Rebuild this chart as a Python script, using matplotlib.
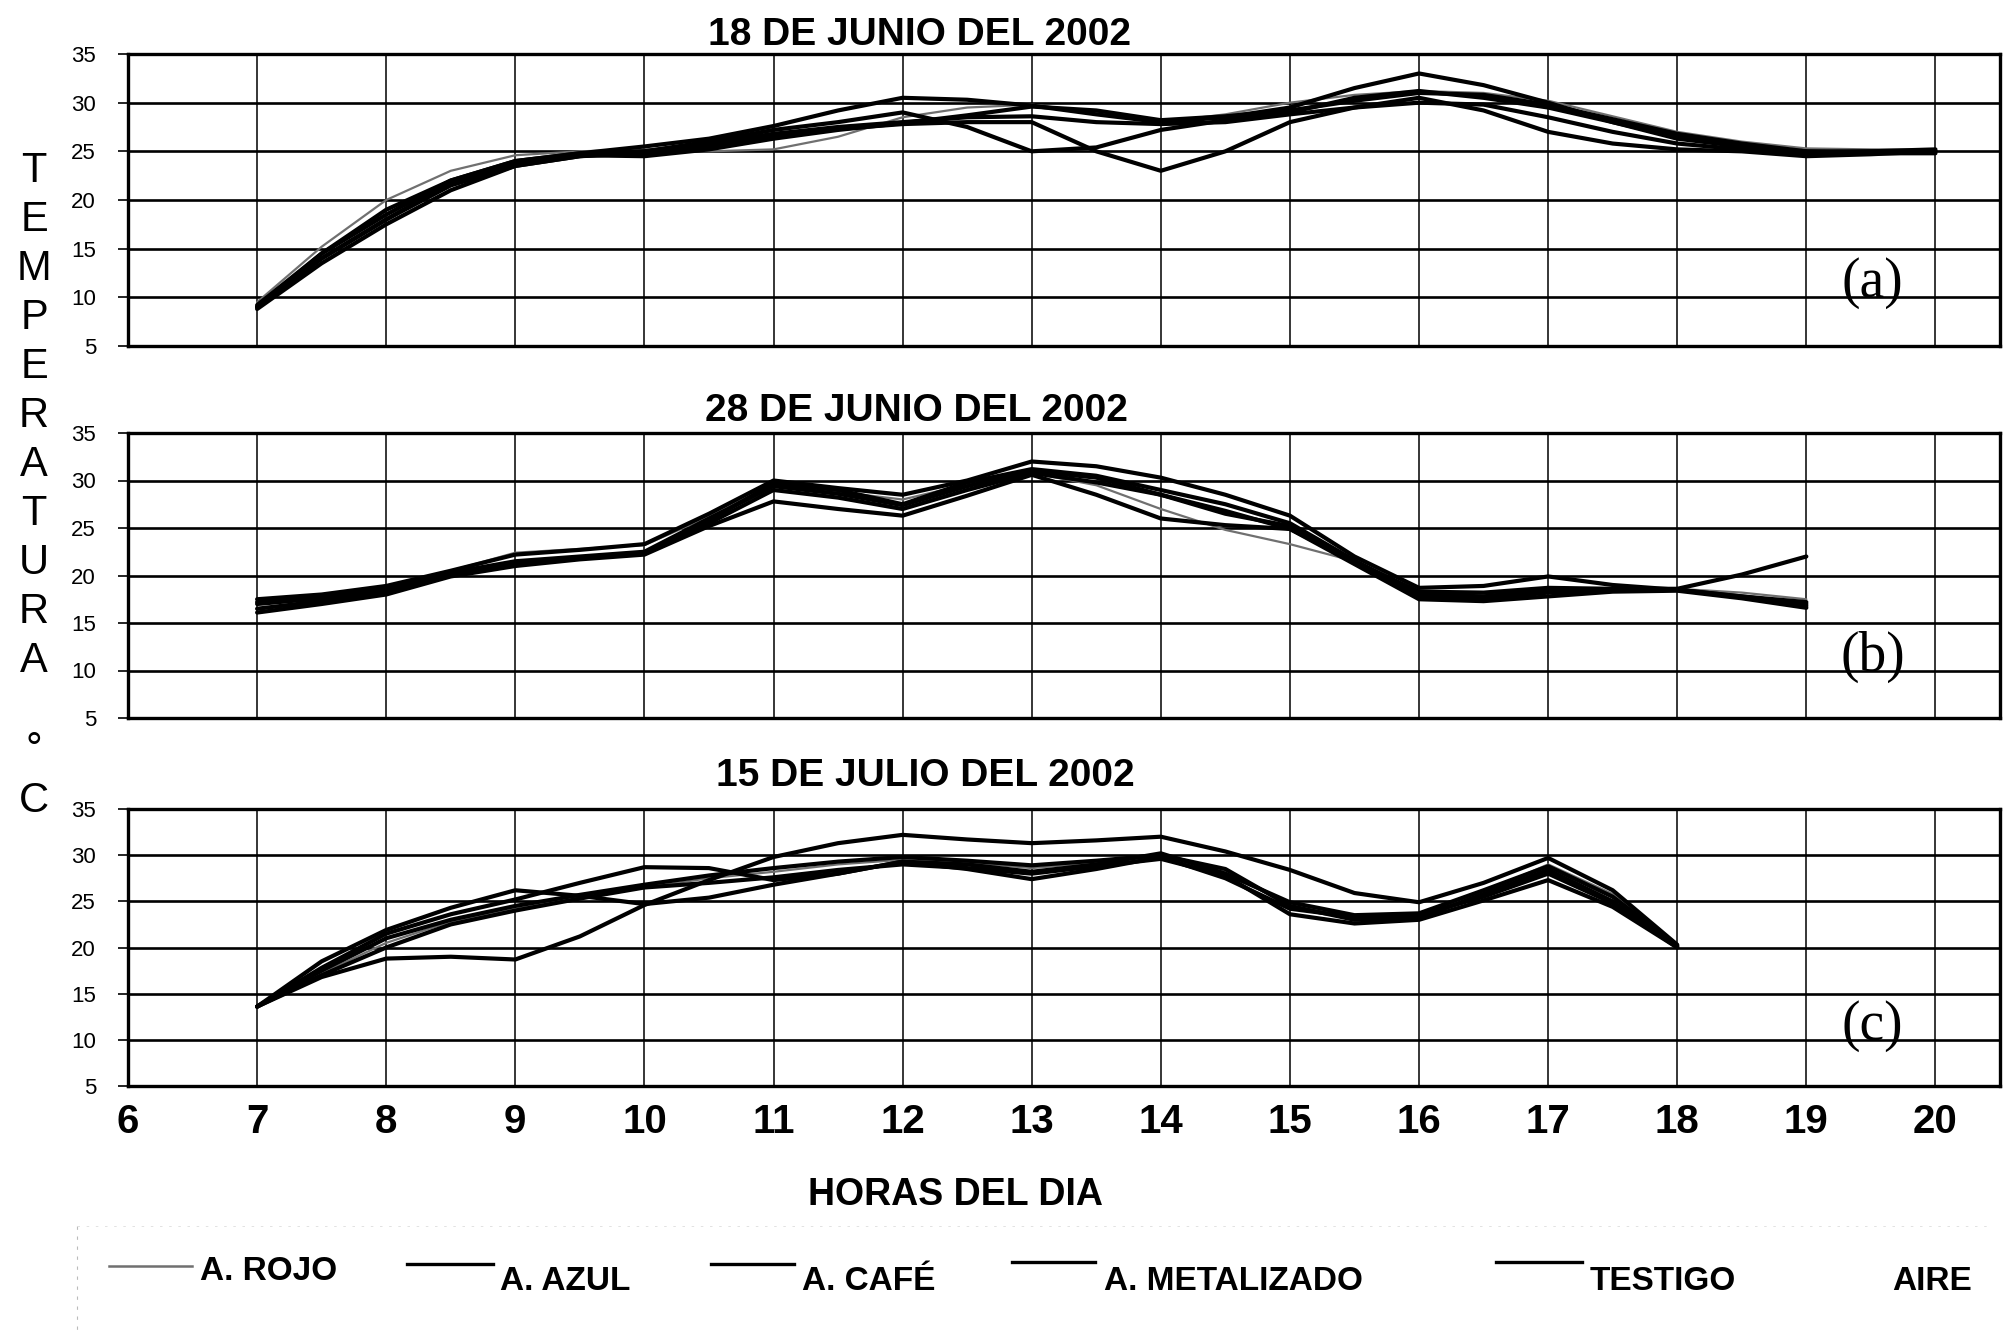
import matplotlib
matplotlib.use("Agg")
import matplotlib.pyplot as plt
from matplotlib.lines import Line2D
import numpy as np

plt.rcParams['font.family'] = ['Liberation Sans', 'DejaVu Sans']

# ---------------- DATA ----------------
series_names = ["A. ROJO", "A. AZUL", "A. CAFÉ", "A. METALIZADO", "TESTIGO", "AIRE"]

# Panel (a) 18 de junio 2002, hours 7..20 every 0.5 h
hours_a = [7, 7.5, 8, 8.5, 9, 9.5, 10, 10.5, 11, 11.5, 12, 12.5, 13, 13.5,
           14, 14.5, 15, 15.5, 16, 16.5, 17, 17.5, 18, 18.5, 19, 19.5, 20]
a_rojo = [9.5, 15.2, 20.0, 23.0, 24.6, 25.0, 25.2, 25.0, 25.2, 26.5, 28.5, 29.5, 29.8, 29.0,
          28.0, 28.8, 30.0, 30.8, 31.2, 31.0, 30.2, 28.6, 27.0, 26.0, 25.3, 25.2, 25.2]
a_azul = [9.0, 14.5, 19.0, 22.0, 24.0, 24.8, 25.5, 26.3, 27.6, 29.2, 30.5, 30.3, 29.7, 28.8,
          28.0, 28.5, 29.5, 31.5, 33.0, 31.8, 30.0, 28.0, 26.3, 25.5, 25.0, 25.0, 25.0]
a_cafe = [9.0, 14.0, 18.0, 21.5, 23.5, 24.5, 25.0, 26.0, 27.2, 28.0, 29.0, 27.5, 25.0, 25.4,
          27.2, 28.2, 29.0, 30.5, 31.2, 30.5, 29.5, 28.0, 26.5, 25.5, 24.8, 24.8, 25.0]
a_metal = [9.2, 14.5, 18.5, 22.0, 24.0, 24.8, 25.0, 25.8, 26.8, 27.5, 28.0, 28.5, 28.6, 28.0,
           27.8, 28.0, 28.8, 29.5, 30.0, 29.8, 28.5, 27.0, 25.8, 25.2, 24.8, 25.0, 25.2]
a_testigo = [9.0, 14.0, 18.0, 21.8, 23.8, 24.6, 24.5, 25.2, 26.3, 27.2, 27.9, 28.7, 29.6, 29.2,
             28.2, 28.6, 29.2, 30.2, 31.0, 30.8, 29.8, 28.3, 26.8, 25.8, 25.0, 24.8, 24.8]
a_aire = [8.8, 13.5, 17.5, 21.0, 23.5, 24.5, 24.8, 25.5, 26.5, 27.3, 27.8, 28.0, 28.0, 25.0,
          23.0, 25.0, 28.0, 29.5, 30.5, 29.2, 27.0, 25.8, 25.2, 25.0, 24.5, 24.7, 25.0]

# Panel (b) 28 de junio 2002, hours 7..19
hours_b = [7, 7.5, 8, 8.5, 9, 9.5, 10, 10.5, 11, 11.5, 12, 12.5, 13, 13.5,
           14, 14.5, 15, 15.5, 16, 16.5, 17, 17.5, 18, 18.5, 19]
b_rojo = [17.3, 17.9, 18.8, 20.5, 22.4, 22.8, 23.2, 26.2, 29.6, 28.8, 28.0, 29.6, 30.8, 29.5,
          27.0, 24.8, 23.3, 21.5, 18.2, 18.0, 18.6, 18.6, 18.6, 18.2, 17.5]
b_azul = [17.5, 18.0, 18.9, 20.5, 22.2, 22.7, 23.3, 26.5, 30.0, 29.2, 28.5, 30.0, 32.0, 31.5,
          30.3, 28.5, 26.3, 22.0, 18.7, 18.9, 19.9, 19.0, 18.5, 17.8, 17.2]
b_cafe = [16.1, 17.0, 18.0, 19.9, 21.0, 21.7, 22.2, 25.2, 27.8, 27.0, 26.3, 28.4, 30.6, 28.5,
          26.0, 25.3, 24.9, 21.2, 17.5, 17.3, 17.8, 18.3, 18.4, 17.6, 16.6]
b_metal = [17.2, 17.8, 18.6, 20.2, 21.3, 21.9, 22.4, 25.8, 29.7, 29.0, 27.5, 29.8, 31.2, 30.5,
           29.0, 27.5, 25.5, 21.6, 18.0, 17.8, 18.5, 18.5, 18.5, 17.7, 16.8]
b_testigo = [16.5, 17.3, 18.2, 20.0, 21.2, 21.8, 22.3, 25.5, 29.0, 28.2, 27.0, 29.0, 30.8, 29.8,
             28.5, 26.5, 25.2, 21.4, 17.8, 17.5, 18.2, 18.4, 18.5, 17.8, 17.0]
b_aire = [17.0, 17.6, 18.5, 20.3, 21.5, 22.0, 22.5, 26.0, 29.4, 28.6, 27.4, 29.4, 31.0, 30.3,
          28.5, 26.8, 24.9, 21.5, 18.3, 18.2, 18.7, 18.6, 18.6, 20.1, 22.0]

# Panel (c) 15 de julio 2002, hours 7..18
hours_c = [7, 7.5, 8, 8.5, 9, 9.5, 10, 10.5, 11, 11.5, 12, 12.5, 13, 13.5,
           14, 14.5, 15, 15.5, 16, 16.5, 17, 17.5, 18]
c_rojo = [13.6, 17.2, 20.5, 22.8, 24.2, 25.4, 26.5, 27.5, 28.2, 29.0, 29.5, 29.2, 28.6, 29.2,
          29.9, 28.2, 24.6, 23.2, 23.4, 26.0, 29.0, 25.8, 20.2]
c_azul = [13.6, 17.8, 21.5, 23.6, 25.2, 27.0, 28.7, 28.6, 27.3, 28.0, 29.3, 29.0, 28.2, 29.0,
          30.2, 28.0, 24.9, 23.5, 23.7, 26.2, 28.8, 25.5, 20.2]
c_cafe = [13.6, 18.5, 21.9, 24.3, 26.2, 25.6, 24.7, 25.4, 26.8, 28.0, 29.3, 28.5, 27.4, 28.5,
          29.8, 27.5, 24.2, 23.3, 23.5, 25.5, 28.0, 24.8, 20.0]
c_metal = [13.6, 16.8, 18.8, 19.0, 18.7, 21.2, 24.6, 27.3, 29.8, 31.3, 32.2, 31.7, 31.3, 31.6,
           32.0, 30.4, 28.4, 25.9, 24.9, 27.0, 29.7, 26.2, 20.3]
c_testigo = [13.6, 17.5, 21.0, 23.0, 24.5, 25.7, 26.8, 27.8, 28.6, 29.3, 29.8, 29.4, 28.9, 29.4,
             30.0, 28.5, 24.5, 23.0, 23.2, 25.8, 28.4, 25.0, 20.1]
c_aire = [13.6, 17.0, 20.0, 22.5, 24.0, 25.3, 26.5, 27.0, 27.6, 28.4, 29.0, 28.6, 28.0, 28.8,
          29.6, 27.8, 23.6, 22.6, 23.0, 25.1, 27.3, 24.4, 20.0]

titles = ["18 DE JUNIO DEL 2002", "28 DE JUNIO DEL 2002", "15 DE JULIO DEL 2002"]
panel_tags = ["(a)", "(b)", "(c)"]
y_ticks = [5, 10, 15, 20, 25, 30, 35]
x_ticks = list(range(6, 21))
ylabel_letters = list("TEMPERATURA")
xlabel_text = "HORAS DEL DIA"

panels = [
    (hours_a, [a_rojo, a_azul, a_cafe, a_metal, a_testigo, a_aire]),
    (hours_b, [b_rojo, b_azul, b_cafe, b_metal, b_testigo, b_aire]),
    (hours_c, [c_rojo, c_azul, c_cafe, c_metal, c_testigo, c_aire]),
]

# ---------------- STYLE / LAYOUT ----------------
W, H = 2009, 1334
fig = plt.figure(figsize=(W / 100, H / 100), dpi=100)
fig.patch.set_facecolor("white")

left_px, right_px = 128, 2000
panel_px = [(54, 346), (433, 718), (809, 1086)]
title_px = [(920, 35), (916, 411), (925, 776)]

styles = [
    dict(color="#707070", lw=1.6),   # A. ROJO (thin grey)
    dict(color="black", lw=3.0),
    dict(color="black", lw=3.0),
    dict(color="black", lw=3.0),
    dict(color="black", lw=3.0),
    dict(color="black", lw=3.0),
]

for i, ((top, bot), (hrs, sers)) in enumerate(zip(panel_px, panels)):
    ax = fig.add_axes([left_px / W, 1 - bot / H, (right_px - left_px) / W, (bot - top) / H])
    ax.set_xlim(6, 20.5)
    ax.set_ylim(5, 35)
    ax.set_facecolor("white")
    for y in y_ticks[1:-1]:
        ax.axhline(y, color="black", lw=1.9, zorder=1)
    for x in x_ticks[1:]:
        ax.axvline(x, color="black", lw=1.1, zorder=1)
    for s, st in zip(sers, styles):
        ax.plot(hrs, s, solid_joinstyle="round", solid_capstyle="round", zorder=3, **st)
    for sp in ax.spines.values():
        sp.set_linewidth(2.4)
        sp.set_color("black")
    ax.set_yticks(y_ticks)
    ax.set_yticklabels([str(v) for v in y_ticks], fontsize=16)
    ax.tick_params(axis="y", direction="out", length=7, width=1.2, pad=16)
    ax.set_xticks(x_ticks)
    if i == 2:
        ax.set_xticklabels([str(v) for v in x_ticks], fontsize=29, fontweight="bold")
        ax.tick_params(axis="x", length=0, pad=12)
    else:
        ax.set_xticklabels([])
        ax.tick_params(axis="x", length=0)
    ax.text(0.932, 0.215, panel_tags[i], transform=ax.transAxes, ha="center", va="center",
            fontsize=40, family=["Liberation Serif", "DejaVu Serif"])
    tx, ty = title_px[i]
    fig.text(tx / W, 1 - ty / H, titles[i], ha="center", va="center",
             fontsize=28, fontweight="bold")

# vertical y-axis label, stacked letters
for k, ch in enumerate(ylabel_letters):
    yc = 167 + 49 * k
    fig.text(34 / W, 1 - (yc + 15) / H, ch, ha="center", va="baseline", fontsize=30)
fig.text(34 / W, 1 - 762 / H, "°", ha="center", va="baseline", fontsize=30)
fig.text(34 / W, 1 - (797 + 15) / H, "C", ha="center", va="baseline", fontsize=30)

# x-axis label
fig.text(955 / W, 1 - 1195 / H, xlabel_text, ha="center", va="center",
         fontsize=27, fontweight="bold")

# legend (drawn manually to mimic the scanned layout)
leg_lines = [(109, 192, 1266), (407, 493, 1264), (711, 794, 1264), (1012, 1095, 1262),
             (1496, 1582, 1262), None]
leg_text = [(200, 1272), (500, 1281), (802, 1281), (1104, 1281), (1590, 1281), (1892, 1281)]
for name, ln, (tx, ty), st in zip(series_names, leg_lines, leg_text, styles):
    if ln is not None:
        x0, x1, yy = ln
        fig.add_artist(Line2D([x0 / W, x1 / W], [1 - yy / H, 1 - yy / H],
                              transform=fig.transFigure, color=st["color"],
                              lw=max(st["lw"] * 0.8, 1.8)))
    fig.text(tx / W, 1 - ty / H, name, ha="left", va="center", fontsize=24, fontweight="bold")

# faint dashed legend frame
fig.add_artist(Line2D([77 / W, 77 / W], [1 - 1226 / H, 0.0], transform=fig.transFigure,
                      color="#bbbbbb", lw=0.8, ls=(0, (3, 6))))
fig.add_artist(Line2D([77 / W, 1990 / W], [1 - 1226 / H, 1 - 1226 / H], transform=fig.transFigure,
                      color="#dddddd", lw=0.6, ls=(0, (3, 8))))

fig.savefig("out.png", dpi=100, facecolor="white")
